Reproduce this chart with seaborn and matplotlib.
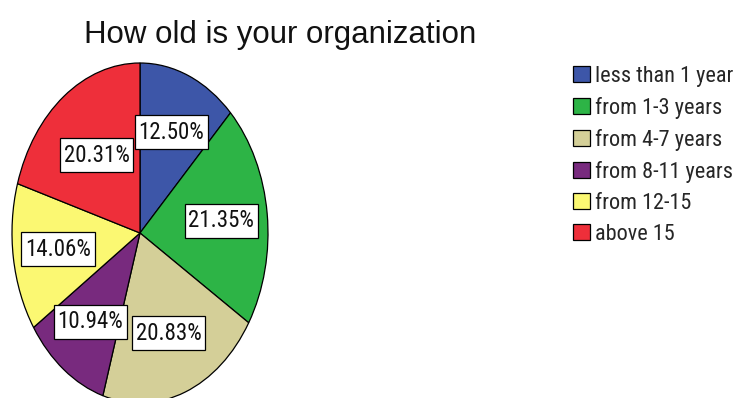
import matplotlib
matplotlib.use("Agg")
import numpy as np
import matplotlib.pyplot as plt
from matplotlib import font_manager
from matplotlib.patches import Patch
from matplotlib.path import Path
import seaborn as sns

# Survey answers: age of the organization
categories = ["less than 1 year", "from 1-3 years", "from 4-7 years",
              "from 8-11 years", "from 12-15", "above 15"]
percentages = [12.50, 21.35, 20.83, 10.94, 14.06, 20.31]
slice_colors = ["#3D56A8", "#2DB446", "#D4CF98", "#782A7E", "#FBF872", "#EE2F3A"]
title = "How old is your organization"

sns.set_style("white")
palette = sns.color_palette(slice_colors)

installed = {f.name for f in font_manager.fontManager.ttflist}
regular = "Liberation Sans" if "Liberation Sans" in installed else "DejaVu Sans"
narrow = "Roboto Condensed" if "Roboto Condensed" in installed else regular
plt.rcParams["font.family"] = [regular, "DejaVu Sans"]

W, H = 739, 398
fig = plt.figure(figsize=(W / 100, H / 100), dpi=100)
fig.patch.set_facecolor("white")


def label_box(x0, y0, width, height, mutation_size):
    """Rectangle around a label, with more room above and below than at the sides."""
    padx, pady = 0.17 * mutation_size, 0.24 * mutation_size
    xa, xb = x0 - padx, x0 + width + padx
    ya, yb = y0 - pady, y0 + height + pady
    return Path([(xa, ya), (xb, ya), (xb, yb), (xa, yb), (xa, ya)], closed=True)


# Pie axes: an elliptical pie spanning its bounding box
x0, x1, y0, y1 = 12, 268, 63, 403
ax = fig.add_axes([x0 / W, 1 - y1 / H, (x1 - x0) / W, (y1 - y0) / H])
wedges, _ = ax.pie(percentages, colors=palette, startangle=90, counterclock=False,
                   wedgeprops=dict(edgecolor="black", linewidth=0.9))
ax.set_aspect("auto")
ax.set_xlim(-1, 1)
ax.set_ylim(-1, 1)
ax.axis("off")

# Percentage labels inside white boxes
label_radius = [0.64, 0.64, 0.63, 0.65, 0.65, 0.57]
for w, pct, r in zip(wedges, percentages, label_radius):
    mid = np.deg2rad((w.theta1 + w.theta2) / 2)
    ax.text(r * np.cos(mid), r * np.sin(mid), f"{pct:.2f}%", ha="center", va="center",
            fontsize=16.5, family=[narrow, "DejaVu Sans"], color="#111111",
            bbox=dict(boxstyle=label_box, facecolor="white",
                      edgecolor="black", linewidth=0.9))

fig.text(280 / W, 1 - 35 / H, title, ha="center", va="center", fontsize=22.5, color="#111111")

handles = [Patch(facecolor=c, edgecolor="black", linewidth=0.9) for c in palette]
fig.legend(handles, categories, loc="upper left", bbox_to_anchor=(573 / W, 1 - 66 / H),
           frameon=False, prop=dict(family=[narrow, "DejaVu Sans"], size=16),
           handlelength=0.77, handleheight=0.72, handletextpad=0.2,
           labelspacing=0.45, borderpad=0, borderaxespad=0)

fig.savefig("out.png", dpi=100, facecolor="white")
